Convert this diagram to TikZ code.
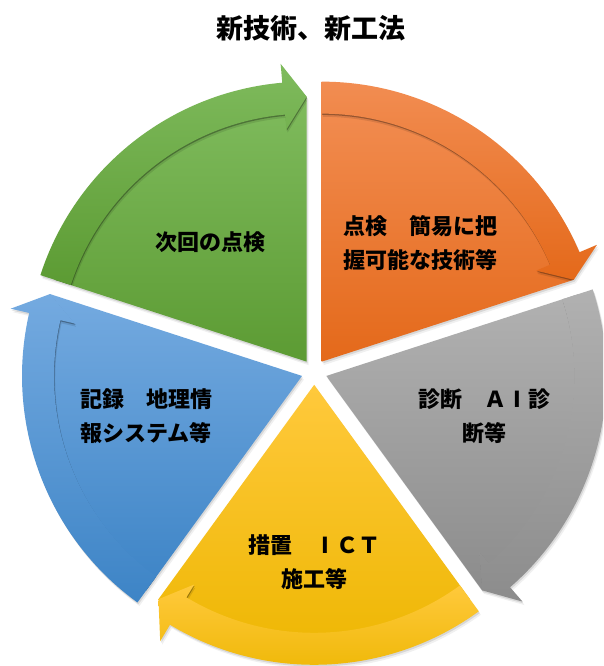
\documentclass[tikz,border=0pt]{standalone}
\usepackage{fontspec}
\newfontfamily\jpfont{Noto Sans CJK JP}
\usetikzlibrary{calc}
\definecolor{gT}{HTML}{7FBB5D}
\definecolor{gB}{HTML}{5C9B33}
\definecolor{oT}{HTML}{F28D52}
\definecolor{oB}{HTML}{E4691A}
\definecolor{sT}{HTML}{B1B1B1}
\definecolor{sB}{HTML}{8C8C8C}
\definecolor{yT}{HTML}{FFC93C}
\definecolor{yB}{HTML}{EDB600}
\definecolor{bT}{HTML}{74AAE0}
\definecolor{bB}{HTML}{3D84C6}
\newcommand{\piepath}[2]{(0,0) -- (#1:265) arc[start angle=#1, end angle=#2, radius=265] -- cycle}
\newcommand{\bandpath}[2]{(#1:280) arc[start angle=#1, end angle=#2+5, radius=280] -- (#2+5:299) -- (#2:265) -- (#2+5:233) -- (#2+5:248) arc[start angle=#2+5, end angle=#1, radius=248] -- cycle}
\newcommand{\fwI}{\makebox[1em]{I}}
\tikzset{
  seglabel/.style={font=\jpfont\bfseries\fontsize{22}{34}\selectfont, align=center, text=black, inner sep=0pt},
  titlestyle/.style={font=\jpfont\bfseries\fontsize{27}{30}\selectfont, text=black, inner sep=0pt},
  bandshadow/.style={black, opacity=0.3}
}
\begin{document}
\begin{tikzpicture}[x=1pt,y=1pt]
\useasboundingbox (0,0) rectangle (603,666);
\clip (0,0) rectangle (603,666);
\fill[white] (0,0) rectangle (603,666);
\coordinate (C) at (314.2,294);
% soft drop shadows
\foreach \b/\s/\e in {126/162/90, 54/90/18, -18/18/-54, -90/-54/-126, -162/-126/-198}{
  \begin{scope}[shift={($(C)+(\b:12.8)+(2,-3.5)$)}]
    \fill[black, opacity=0.06] \piepath{\s}{\e} \bandpath{\s}{\e};
  \end{scope}
  \begin{scope}[shift={($(C)+(\b:12.8)+(1,-1.8)$)}]
    \fill[black, opacity=0.1] \piepath{\s}{\e} \bandpath{\s}{\e};
  \end{scope}
}
% segments
\foreach \b/\s/\e/\ct/\cb in {126/162/90/gT/gB, 54/90/18/oT/oB, -18/18/-54/sT/sB, -90/-54/-126/yT/yB, -162/-126/-198/bT/bB}{
  \begin{scope}[shift={($(C)+(\b:12.8)$)}]
    \shade[top color=\ct, bottom color=\cb] \piepath{\s}{\e};
    \begin{scope}
      \clip \piepath{\s}{\e};
      \fill[black, opacity=0.1, shift={(1.2,-3.2)}] \bandpath{\s}{\e};
      \fill[bandshadow, shift={(0.5,-1.3)}] \bandpath{\s}{\e};
    \end{scope}
    \shade[top color=\ct, bottom color=\cb] \bandpath{\s}{\e};
  \end{scope}
}
\node[titlestyle] (title) at (311,638) {新技術、新工法};
\node[seglabel] (lg) at (210,424) {次回の点検};
\node[seglabel] (lo) at (420,423) {点検　簡易に把\\握可能な技術等};
\node[seglabel] (ls) at (484,249.5) {診断　Ａ\fwI 診\\断等};
\node[seglabel] (ly) at (314,103.5) {措置　\fwI ＣＴ\\施工等};
\node[seglabel] (lb) at (146,249.5) {記録　地理情\\報システム等};
\end{tikzpicture}
\end{document}
